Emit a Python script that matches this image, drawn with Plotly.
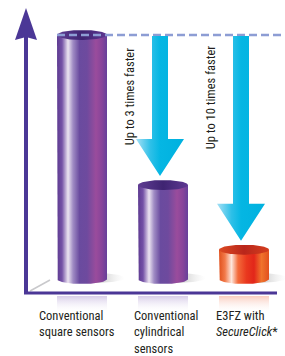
import numpy as np
import plotly.graph_objects as go

# ---- data ----
categories = ["Conventional<br>square sensors",
              "Conventional<br>cylindrical<br>sensors",
              "E3FZ with<br><i>SecureClick</i>*"]
values = [100, 38.5, 12]
arrow_labels = ["Up to 3 times faster", "Up to 10 times faster"]
arrow_targets = [1, 2]

# ---- geometry / style ----
W, H = 285, 356
PX_X = 81.0          # pixels per category step
PX_Y = 2.44          # pixels per value unit
X0_PX, Y0_PX = 82, 279   # pixel of (x=0, y=0)
XR = [-X0_PX / PX_X, (W - X0_PX) / PX_X]
YR = [(Y0_PX - H) / PX_Y, Y0_PX / PX_Y]
BAR_W = 50 / PX_X
RY = 5 / PX_Y
FONT = "Roboto Condensed, Liberation Sans Narrow, Roboto, sans-serif"
TXT = "#231f20"
AXIS = "#4b3796"

purple_body = [[0, '#5d3a91'], [0.1, '#7451a6'], [0.22, '#ece4f1'], [0.32, '#a08cc4'],
               [0.45, '#6a4b9f'], [0.6, '#6e4a9e'], [0.78, '#9a4c9c'], [0.9, '#87449a'],
               [1, '#66409a']]
purple_cap = [[0, '#5f3d92'], [0.5, '#3f2472'], [1, '#5e3892']]
orange_body = [[0, '#e0501c'], [0.12, '#f27a4a'], [0.25, '#fde6dc'], [0.38, '#f36a3a'],
               [0.55, '#e9381e'], [0.7, '#e2261a'], [0.85, '#f0742c'], [1, '#e2501e']]
orange_cap = [[0, '#dc4a22'], [0.5, '#b9261b'], [1, '#d43e1e']]
refl_cols = ['rgba(140,110,190,0.35)', 'rgba(140,110,190,0.35)', 'rgba(240,110,70,0.35)']
body_scales = [purple_body, purple_body, orange_body]
cap_scales = [purple_cap, purple_cap, orange_cap]
arrow_scale = [[0, '#a6e0f5'], [0.3, '#2ec0e8'], [0.5, '#05b6e3'], [1, '#00b1df']]

fig = go.Figure()
t = np.linspace(np.pi, 2 * np.pi, 40)
tf = np.linspace(0, 2 * np.pi, 80)
hw = BAR_W / 2

# shadows and reflections
for i, v in enumerate(values):
    c = i
    sx = c + 12 / PX_X
    fig.add_trace(go.Scatter(x=list(sx + (hw + 6 / PX_X) * np.cos(tf)),
                             y=list(1 / PX_Y + 5 / PX_Y * np.sin(tf)),
                             mode='lines', line=dict(width=0), fill='toself',
                             fillgradient=dict(type='horizontal',
                                               colorscale=[[0, 'rgba(90,90,90,0.45)'],
                                                           [0.6, 'rgba(110,110,110,0.35)'],
                                                           [1, 'rgba(200,200,200,0)']]),
                             hoverinfo='skip', showlegend=False))
    r0, r1 = -(17 / PX_Y), -(34 / PX_Y)
    fig.add_trace(go.Scatter(x=[c - hw, c + hw, c + hw, c - hw, c - hw],
                             y=[r0, r0, r1, r1, r0],
                             mode='lines', line=dict(width=0), fill='toself',
                             fillgradient=dict(type='vertical',
                                               colorscale=[[0, 'rgba(255,255,255,0)'],
                                                           [1, refl_cols[i]]]),
                             hoverinfo='skip', showlegend=False))

for i, v in enumerate(values):
    c = i
    # body with rounded bottom
    xs = [c - hw, c - hw] + list(c + hw * np.cos(t)) + [c + hw, c - hw]
    ys = [v, 0] + list(RY * np.sin(t)) + [v, v]
    fig.add_trace(go.Scatter(x=xs, y=ys, mode='lines', line=dict(width=0),
                             fill='toself',
                             fillgradient=dict(type='horizontal', colorscale=body_scales[i]),
                             hoverinfo='skip', showlegend=False))
    # top cap
    fig.add_trace(go.Scatter(x=list(c + hw * np.cos(tf)), y=list(v + RY * np.sin(tf)),
                             mode='lines', line=dict(width=0), fill='toself',
                             fillgradient=dict(type='horizontal', colorscale=cap_scales[i]),
                             hoverinfo='skip', showlegend=False))

# dashed reference line at the top value
fig.add_trace(go.Scatter(x=[0 - hw, XR[1]], y=[values[0], values[0]], mode='lines',
                         line=dict(color='#8d9dd4', width=2.6, dash='8px,4px'),
                         hoverinfo='skip', showlegend=False))

# arrows from top value down to target bars
SH = 8 / PX_X
HH = 24 / PX_X
HEAD = 37 / PX_Y
for k, tgt in enumerate(arrow_targets):
    cx = tgt - 3 / PX_X
    top = values[0] - 1 / PX_Y
    tip = values[tgt] + RY + 4 / PX_Y
    xs = [cx - SH, cx + SH, cx + SH, cx + HH, cx, cx - HH, cx - SH, cx - SH]
    ys = [top, top, tip + HEAD, tip + HEAD, tip, tip + HEAD, tip + HEAD, top]
    fig.add_trace(go.Scatter(x=xs, y=ys, mode='lines', line=dict(width=0), fill='toself',
                             fillgradient=dict(type='horizontal', colorscale=arrow_scale),
                             hoverinfo='skip', showlegend=False))
    fig.add_annotation(x=cx, y=(values[0] + values[0] * 0.5) / 2 - 0.5, xshift=-31,
                       text=arrow_labels[k], textangle=-90, showarrow=False,
                       font=dict(family=FONT, size=12.5, color=TXT),
                       xanchor='center', yanchor='middle')

# category labels
label_shift = [-45, -31, -30]
for i, lab in enumerate(categories):
    fig.add_annotation(x=i, y=YR[0], yshift=356 - 306, xshift=label_shift[i],
                       text=lab, showarrow=False, align='left',
                       xanchor='left', yanchor='top',
                       font=dict(family=FONT, size=12.5, color=TXT))

def px(x):
    return x / W

def py(y):
    return 1 - y / H

shapes = [
    # floor perspective line
    dict(type='line', xref='paper', yref='paper', x0=px(30), y0=py(291), x1=px(50), y1=py(280),
         line=dict(color='#c9c9cc', width=1.5)),
    # y axis
    dict(type='line', xref='paper', yref='paper', x0=px(26), y0=py(294), x1=px(26), y1=py(36),
         line=dict(color=AXIS, width=4)),
    # x axis
    dict(type='line', xref='paper', yref='paper', x0=px(24), y0=py(293), x1=px(277), y1=py(293),
         line=dict(color=AXIS, width=3)),
    # y arrow head
    dict(type='path', xref='paper', yref='paper',
         path=f"M {px(26)} {py(8)} L {px(37)} {py(40)} L {px(26)} {py(37)} L {px(15)} {py(40)} Z",
         fillcolor=AXIS, line=dict(width=0)),
]

fig.update_layout(
    width=W, height=H, margin=dict(l=0, r=0, t=0, b=0),
    paper_bgcolor='white', plot_bgcolor='white',
    xaxis=dict(range=XR, visible=False, fixedrange=True),
    yaxis=dict(range=YR, visible=False, fixedrange=True),
    shapes=shapes, showlegend=False,
)
fig.write_html("out.html", config={'displayModeBar': False},
               post_script="document.body.style.margin='0';")
